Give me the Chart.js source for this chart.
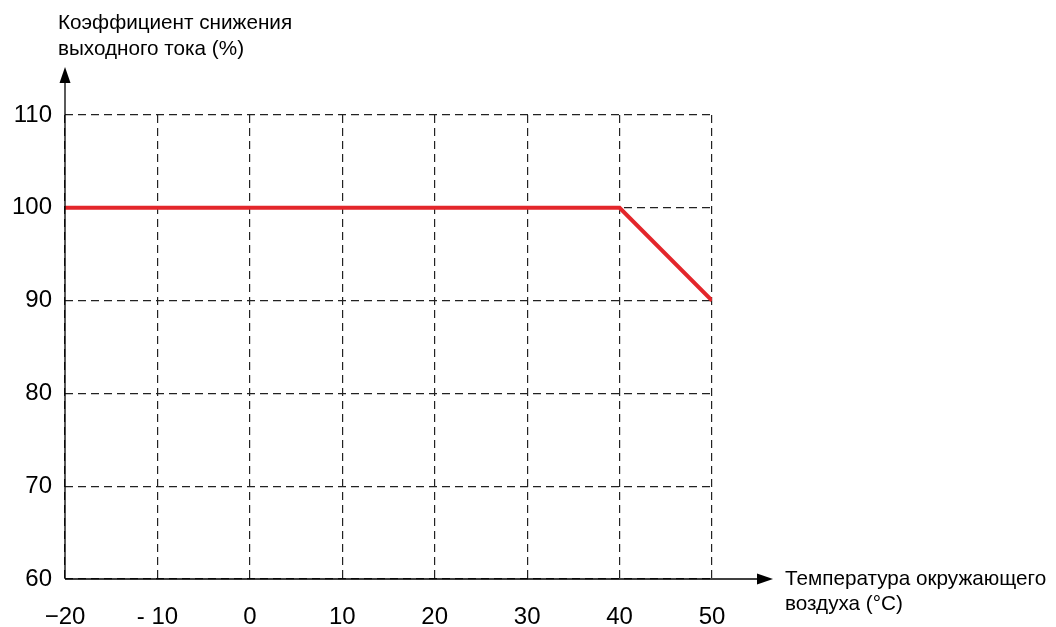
<!DOCTYPE html>
<html>
<head>
<meta charset="utf-8">
<script src="https://cdn.jsdelivr.net/npm/chart.js@4.4.1/dist/chart.umd.min.js"></script>
<style>
  html, body { margin: 0; padding: 0; background: #fff; }
  #wrap { width: 1056px; height: 627px; position: relative; }
</style>
</head>
<body>
<div id="wrap"><canvas id="derating"></canvas></div>
<script>
// output current derating vs ambient temperature
const tempC = [-20, 40, 50];
const currentPct = [100, 100, 90];
const xTickLabels = ['\u221220', '- 10', '0', '10', '20', '30', '40', '50'];
const yTitle = ['Коэффициент снижения', 'выходного тока (%)'];
const xTitle = ['Температура окружающего', 'воздуха (°C)'];

const FONT = '"Liberation Sans", Arial, sans-serif';

// axes with arrows + axis titles (drawn after the line)
const axesPlugin = {
  id: 'axesArrows',
  afterDatasetsDraw(chart) {
    const ctx = chart.ctx;
    const x = chart.scales.x, y = chart.scales.y;
    const x0 = x.getPixelForValue(-20);
    const y0 = y.getPixelForValue(60);
    ctx.save();
    ctx.strokeStyle = '#000';
    ctx.fillStyle = '#000';
    ctx.lineWidth = 1.3;
    ctx.setLineDash([]);
    // y axis
    ctx.beginPath();
    ctx.moveTo(x0, y0);
    ctx.lineTo(x0, 80);
    ctx.stroke();
    ctx.beginPath();
    ctx.moveTo(x0, 67);
    ctx.lineTo(x0 - 5.5, 83);
    ctx.lineTo(x0 + 5.5, 83);
    ctx.closePath();
    ctx.fill();
    // x axis
    ctx.beginPath();
    ctx.moveTo(x0, y0);
    ctx.lineTo(760, y0);
    ctx.stroke();
    ctx.beginPath();
    ctx.moveTo(773, y0);
    ctx.lineTo(757, y0 - 5.5);
    ctx.lineTo(757, y0 + 5.5);
    ctx.closePath();
    ctx.fill();
    // titles
    ctx.font = '20.7px ' + FONT;
    ctx.textAlign = 'left';
    ctx.textBaseline = 'middle';
    ctx.fillText(yTitle[0], 58, 23);
    ctx.fillText(yTitle[1], 58, 49);
    ctx.fillText(xTitle[0], 785, 579);
    ctx.fillText(xTitle[1], 785, 604);
    ctx.restore();
  }
};

new Chart(document.getElementById('derating'), {
  type: 'line',
  data: {
    datasets: [{
      data: tempC.map((t, i) => ({ x: t, y: currentPct[i] })),
      borderColor: '#e3262b',
      borderWidth: 4,
      pointRadius: 0,
      tension: 0,
      fill: false
    }]
  },
  options: {
    responsive: true,
    maintainAspectRatio: false,
    animation: false,
    layout: { padding: { top: 115, right: 344, left: 0, bottom: 0 } },
    plugins: { legend: { display: false }, tooltip: { enabled: false } },
    scales: {
      x: {
        type: 'linear',
        min: -20,
        max: 50,
        afterFit(s) { s.height = 48; },
        grid: { color: '#222', lineWidth: 1.2, drawTicks: false },
        border: { display: false, dash: [8, 5] },
        ticks: {
          stepSize: 10,
          padding: 24,
          color: '#000',
          font: { size: 24, family: FONT },
          callback: (v, i) => xTickLabels[i]
        }
      },
      y: {
        min: 60,
        max: 110,
        afterFit(s) { s.width = 65; },
        grid: { color: '#222', lineWidth: 1.2, drawTicks: false },
        border: { display: false, dash: [8, 5] },
        ticks: {
          stepSize: 10,
          padding: 13,
          color: '#000',
          font: { size: 24, family: FONT }
        }
      }
    }
  },
  plugins: [axesPlugin]
});
</script>
</body>
</html>
